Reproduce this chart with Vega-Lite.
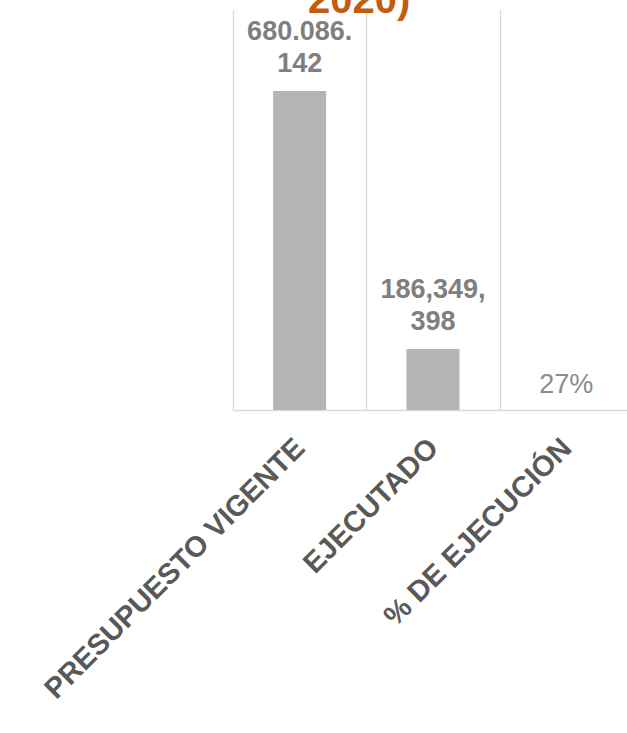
{
  "$schema": "https://vega.github.io/schema/vega-lite/v6.json",
  "autosize": {"type": "none"},
  "padding": {"left": 233, "top": 10, "right": 0, "bottom": 323},
  "width": 394,
  "height": 400,
  "background": "white",
  "title": {
    "text": "2020)",
    "font": "Liberation Sans",
    "fontSize": 40,
    "fontWeight": "bold",
    "color": "#C55A11",
    "anchor": "start",
    "frame": "group",
    "offset": -43,
    "baseline": "alphabetic",
    "dx": 75
  },
  "config": {
    "view": {"stroke": null},
    "font": "Liberation Sans"
  },
  "data": {
    "values": [
      {"cat": "PRESUPUESTO VIGENTE", "value": 680086142, "label": ["680.086.", "142"], "kind": "amount"},
      {"cat": "EJECUTADO", "value": 130000000, "label": ["186,349,", "398"], "kind": "amount"},
      {"cat": "% DE EJECUCIÓN", "value": 0, "label": ["27%"], "kind": "percent"}
    ]
  },
  "encoding": {
    "x": {
      "field": "cat",
      "type": "nominal",
      "sort": null,
      "scale": {"range": [0, 400], "paddingInner": 0, "paddingOuter": 0},
      "axis": {
        "title": null,
        "labelAngle": -45,
        "labelAlign": "right",
        "labelBaseline": "middle",
        "labelFont": "Liberation Sans",
        "labelFontSize": 29,
        "labelFontWeight": "bold",
        "labelColor": "#595959",
        "labelPadding": 33,
        "labelLimit": 1000,
        "ticks": false,
        "grid": true,
        "tickBand": "extent",
        "gridColor": "#d9d9d9",
        "gridWidth": 1.3,
        "domainColor": "#d9d9d9",
        "domainWidth": 1.3
      }
    },
    "y": {
      "field": "value",
      "type": "quantitative",
      "scale": {"domain": [0, 853000000], "zero": true},
      "axis": null
    }
  },
  "layer": [
    {
      "mark": {"type": "bar", "color": "#b4b4b4", "width": 53}
    },
    {
      "transform": [{"filter": "datum.kind == 'amount'"}],
      "mark": {
        "type": "text",
        "font": "Liberation Sans",
        "fontSize": 27,
        "fontWeight": "bold",
        "color": "#7f7f7f",
        "baseline": "alphabetic",
        "lineHeight": 32,
        "dy": -51
      },
      "encoding": {"text": {"field": "label"}}
    },
    {
      "transform": [{"filter": "datum.kind == 'percent'"}],
      "mark": {
        "type": "text",
        "font": "Liberation Sans",
        "fontSize": 27,
        "fontWeight": "normal",
        "color": "#8c8c8c",
        "baseline": "alphabetic",
        "dy": -17
      },
      "encoding": {"text": {"field": "label"}}
    }
  ]
}
